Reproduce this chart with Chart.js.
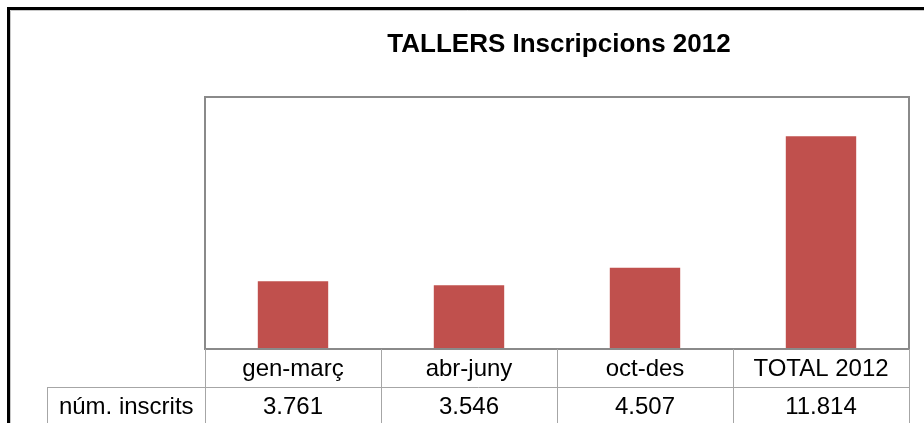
<!DOCTYPE html>
<html>
<head>
<meta charset="utf-8">
<script src="https://cdn.jsdelivr.net/npm/chart.js@4/dist/chart.umd.min.js"></script>
<style>
  html, body { margin: 0; padding: 0; background: #fff; }
  #wrap { width: 924px; height: 423px; position: relative; }
</style>
</head>
<body>
<div id="wrap"><canvas id="c" width="924" height="423"></canvas></div>
<script>
const title = "TALLERS Inscripcions 2012";
const categories = ["gen-març", "abr-juny", "oct-des", "TOTAL 2012"];
const seriesName = "núm. inscrits";
const values = [3761, 3546, 4507, 11814];
const yMax = 14000;

function fmt(v) {
  return String(v).replace(/\B(?=(\d{3})+(?!\d))/g, ".");
}

const decor = {
  id: "decor",
  beforeDraw(chart) {
    const ctx = chart.ctx;
    ctx.save();
    ctx.fillStyle = "#fff";
    ctx.fillRect(0, 0, chart.width, chart.height);
    // outer frame
    ctx.strokeStyle = "#c8c8c8";
    ctx.lineWidth = 1;
    ctx.beginPath();
    ctx.moveTo(10.5, chart.height + 5); ctx.lineTo(10.5, 10.5); ctx.lineTo(chart.width + 5, 10.5);
    ctx.stroke();
    ctx.strokeStyle = "#000";
    ctx.lineWidth = 3;
    ctx.beginPath();
    ctx.moveTo(8.5, chart.height + 5); ctx.lineTo(8.5, 8.5); ctx.lineTo(chart.width + 5, 8.5);
    ctx.stroke();
    ctx.restore();
  },
  afterDraw(chart) {
    const ctx = chart.ctx;
    const a = chart.chartArea;
    const x = chart.scales.x;
    const n = categories.length;
    const cw = (a.right - a.left) / n;
    ctx.save();
    // title
    ctx.fillStyle = "#000";
    ctx.font = "bold 26px 'Liberation Sans', Arial, sans-serif";
    ctx.textAlign = "center";
    ctx.textBaseline = "middle";
    ctx.fillText(title, (a.left + a.right) / 2 + 2, 45);
    // plot border
    ctx.strokeStyle = "#8a8a8a";
    ctx.lineWidth = 2;
    ctx.strokeRect(a.left, a.top, a.right - a.left, a.bottom - a.top);
    // table
    const row1Bottom = a.bottom + 38;
    const labelLeft = 47.5;
    ctx.strokeStyle = "#a6a6a6";
    ctx.lineWidth = 1;
    ctx.beginPath();
    for (let i = 0; i <= n; i++) {
      const px = Math.round(a.left + i * cw) + 0.5;
      ctx.moveTo(px, a.bottom);
      ctx.lineTo(px, chart.height + 2);
    }
    ctx.moveTo(labelLeft, row1Bottom + 0.5);
    ctx.lineTo(a.right + 0.5, row1Bottom + 0.5);
    ctx.moveTo(labelLeft, row1Bottom);
    ctx.lineTo(labelLeft, chart.height + 2);
    ctx.stroke();
    ctx.fillStyle = "#000";
    ctx.font = "24px 'Liberation Sans', Arial, sans-serif";
    ctx.textAlign = "center";
    ctx.textBaseline = "middle";
    for (let i = 0; i < n; i++) {
      const cx = x.getPixelForValue(i);
      ctx.fillText(categories[i], cx, (a.bottom + row1Bottom) / 2 + 1);
      ctx.fillText(fmt(values[i]), cx, row1Bottom + 20);
    }
    ctx.fillText(seriesName, (labelLeft + a.left) / 2, row1Bottom + 20);
    ctx.restore();
  }
};

new Chart(document.getElementById("c"), {
  type: "bar",
  data: {
    labels: categories,
    datasets: [{
      label: seriesName,
      data: values,
      backgroundColor: "#C0504D",
      borderWidth: 0,
      categoryPercentage: 0.8,
      barPercentage: 0.5
    }]
  },
  options: {
    responsive: false,
    animation: false,
    devicePixelRatio: 1,
    layout: { padding: { left: 205, right: 15, top: 97, bottom: 74 } },
    plugins: { legend: { display: false }, title: { display: false }, tooltip: { enabled: false } },
    scales: {
      x: { display: false, grid: { display: false } },
      y: { display: false, min: 0, max: yMax, grid: { display: false } }
    }
  },
  plugins: [decor]
});
</script>
</body>
</html>
